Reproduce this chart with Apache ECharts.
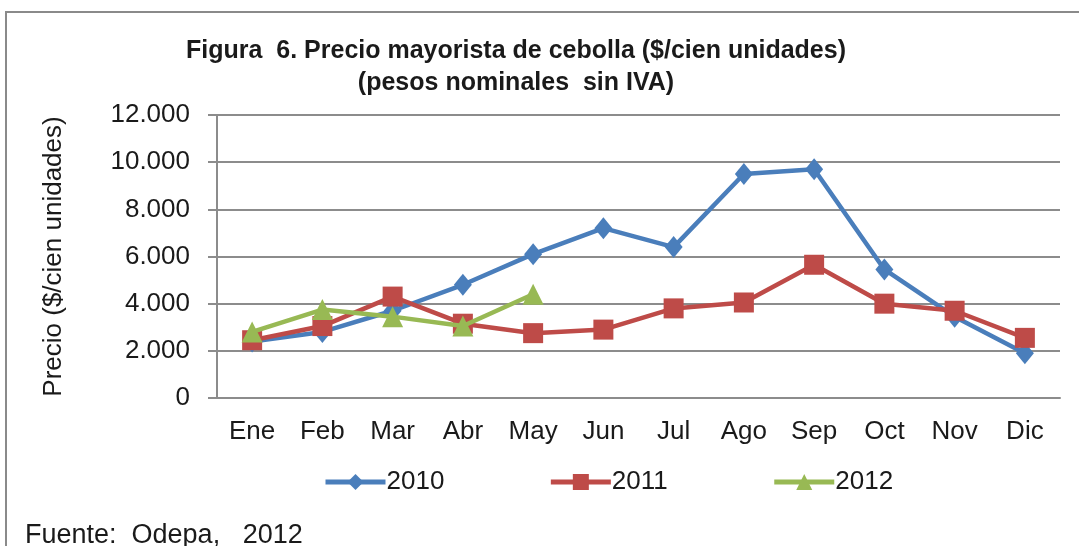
<!DOCTYPE html>
<html>
<head>
<meta charset="utf-8">
<script src="https://cdn.jsdelivr.net/npm/echarts@6/dist/echarts.min.js"></script>
<style>
  html, body { margin: 0; padding: 0; background: #fff; }
  #chart { width: 1079px; height: 546px; }
</style>
</head>
<body>
<div id="chart"></div>
<script>
var meses = ['Ene', 'Feb', 'Mar', 'Abr', 'May', 'Jun', 'Jul', 'Ago', 'Sep', 'Oct', 'Nov', 'Dic'];
var precio2010 = [2400, 2800, 3700, 4800, 6100, 7200, 6400, 9500, 9700, 5450, 3450, 1900];
var precio2011 = [2450, 3050, 4300, 3150, 2750, 2900, 3800, 4050, 5650, 4000, 3700, 2550];
var precio2012 = [2800, 3750, 3450, 3050, 4400];
var yTicks = [0, 2000, 4000, 6000, 8000, 10000, 12000];

var fuente = '"Liberation Sans Narrow", "Liberation Sans", Arial, sans-serif';
var colors = ['#4a7ebb', '#be4b48', '#98b954'];

var dom = document.getElementById('chart');
var myChart = echarts.init(dom);

// miles con punto, como en el original
function miles(v) {
    var s = String(v);
    if (s.length > 3) {
        s = s.slice(0, s.length - 3) + '.' + s.slice(s.length - 3);
    }
    return s;
}

var option = {
    color: colors,
    animation: false,
    title: {
        text: 'Figura  6. Precio mayorista de cebolla ($/cien unidades)\n(pesos nominales  sin IVA)',
        left: 511,
        top: 30,
        textAlign: 'center',
        textStyle: {
            fontFamily: fuente,
            fontWeight: 'bold',
            fontSize: 25,
            lineHeight: 32,
            color: '#1a1a1a'
        }
    },
    grid: {
        left: 217,
        right: 19,
        top: 115,
        bottom: 148
    },
    legend: {
        left: 318,
        top: 464,
        itemWidth: 60,
        itemHeight: 20,
        itemGap: 104,
        lineStyle: { width: 5 },
        textStyle: {
            fontFamily: fuente,
            fontSize: 26,
            color: '#1a1a1a',
            padding: [0, 0, 0, -4]
        },
        data: ['2010', '2011', '2012']
    },
    xAxis: {
        type: 'category',
        data: meses,
        boundaryGap: true,
        axisLine: { lineStyle: { color: '#8c8c8c', width: 2 } },
        axisTick: { length: 10, lineStyle: { color: '#8c8c8c', width: 2 } },
        axisLabel: {
            fontFamily: fuente,
            fontSize: 26,
            color: '#1a1a1a',
            margin: 21
        }
    },
    yAxis: {
        type: 'value',
        min: yTicks[0],
        max: yTicks[yTicks.length - 1],
        interval: 2000,
        name: 'Precio ($/cien unidades)',
        nameLocation: 'middle',
        nameGap: 150,
        nameTextStyle: {
            fontFamily: fuente,
            fontSize: 26,
            color: '#1a1a1a'
        },
        axisLine: { show: true, lineStyle: { color: '#8c8c8c', width: 2 } },
        axisTick: { show: true, length: 9, lineStyle: { color: '#8c8c8c', width: 2 } },
        axisLabel: {
            fontFamily: fuente,
            fontSize: 26,
            color: '#1a1a1a',
            margin: 27,
            formatter: function (v) { return miles(v); }
        },
        splitLine: { lineStyle: { color: '#8c8c8c', width: 2 } }
    },
    series: [
        {
            name: '2010',
            type: 'line',
            data: precio2010,
            symbol: 'diamond',
            symbolSize: [18, 22],
            lineStyle: { width: 4.5 },
            z: 2
        },
        {
            name: '2011',
            type: 'line',
            data: precio2011,
            symbol: 'rect',
            symbolSize: 20,
            lineStyle: { width: 4.5 },
            z: 3
        },
        {
            name: '2012',
            type: 'line',
            data: precio2012,
            symbol: 'triangle',
            symbolSize: [21, 21],
            lineStyle: { width: 4.5 },
            z: 4
        }
    ],
    graphic: [
        {
            type: 'rect',
            shape: { x: 6, y: 12, width: 1200, height: 700 },
            style: { fill: 'none', stroke: '#8a8a8a', lineWidth: 2 },
            silent: true
        },
        {
            type: 'text',
            left: 25,
            top: 522,
            style: {
                text: 'Fuente:  Odepa,   2012',
                fontFamily: fuente,
                fontSize: 27,
                fill: '#1a1a1a'
            }
        }
    ]
};

myChart.setOption(option);
</script>
</body>
</html>
